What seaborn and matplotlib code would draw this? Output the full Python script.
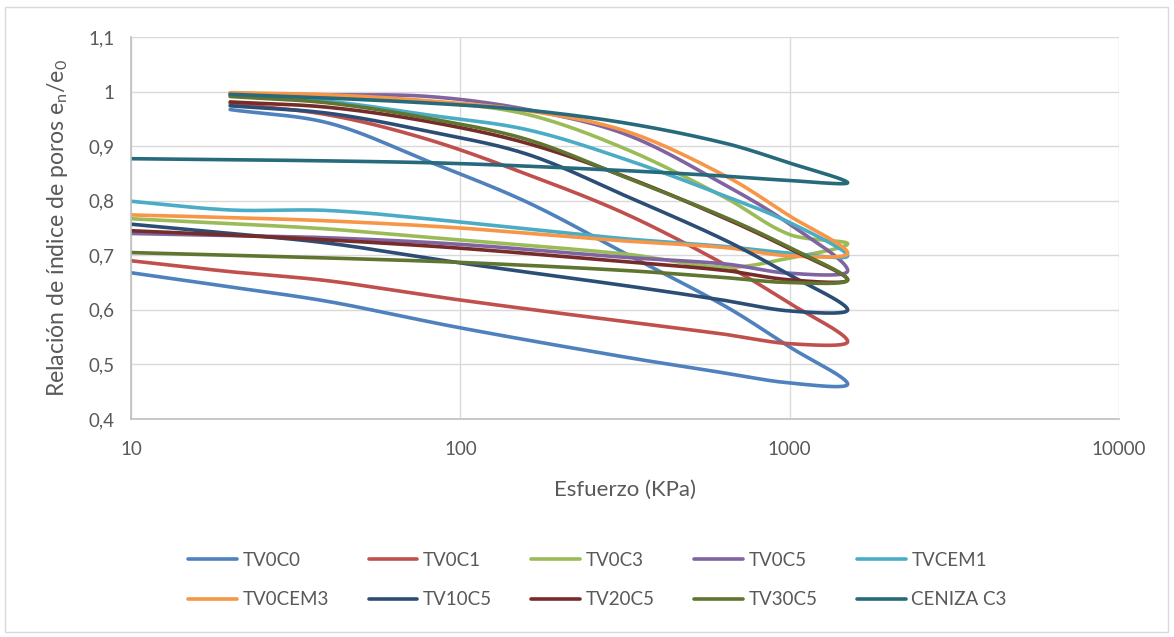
import numpy as np
import pandas as pd
import matplotlib
matplotlib.use("Agg")
import matplotlib.pyplot as plt
import seaborn as sns
from matplotlib.ticker import FixedLocator, FuncFormatter, NullLocator
from matplotlib.patches import Rectangle

# ---------------- data ----------------
series_names = ["TV0C0", "TV0C1", "TV0C3", "TV0C5", "TVCEM1",
                "TV0CEM3", "TV10C5", "TV20C5", "TV30C5", "CENIZA C3"]

load_x = [20, 40, 80, 160, 320, 640, 1000, 1500]        # loading branch (kPa)
unload_x = [1000, 640, 320, 100, 40, 20, 10]            # unloading branch (kPa)

tv0c0_load = [0.967, 0.942, 0.872, 0.797, 0.702, 0.606, 0.532, 0.464]
tv0c0_unload = [0.466, 0.484, 0.513, 0.567, 0.615, 0.642, 0.668]

tv0c1_load = [0.978, 0.957, 0.912, 0.848, 0.775, 0.682, 0.612, 0.542]
tv0c1_unload = [0.538, 0.555, 0.578, 0.618, 0.653, 0.670, 0.690]

tv0c3_load = [0.997, 0.992, 0.982, 0.958, 0.894, 0.805, 0.738, 0.721]
tv0c3_unload = [0.695, 0.678, 0.702, 0.728, 0.748, 0.758, 0.767]

tv0c5_load = [0.995, 0.994, 0.991, 0.967, 0.921, 0.828, 0.757, 0.672]
tv0c5_unload = [0.667, 0.684, 0.696, 0.720, 0.732, 0.736, 0.740]

tvcem1_load = [0.993, 0.982, 0.957, 0.930, 0.875, 0.808, 0.760, 0.699]
tvcem1_unload = [0.704, 0.716, 0.730, 0.761, 0.782, 0.783, 0.799]

tv0cem3_load = [0.998, 0.994, 0.983, 0.965, 0.927, 0.845, 0.772, 0.704]
tv0cem3_unload = [0.699, 0.714, 0.726, 0.750, 0.763, 0.769, 0.774]

tv10c5_load = [0.974, 0.960, 0.927, 0.885, 0.808, 0.727, 0.664, 0.600]
tv10c5_unload = [0.598, 0.617, 0.644, 0.686, 0.722, 0.740, 0.757]

tv20c5_load = [0.981, 0.971, 0.945, 0.905, 0.843, 0.767, 0.712, 0.655]
tv20c5_unload = [0.655, 0.672, 0.688, 0.713, 0.728, 0.737, 0.745]

tv30c5_load = [0.991, 0.979, 0.951, 0.912, 0.842, 0.769, 0.714, 0.655]
tv30c5_unload = [0.650, 0.659, 0.672, 0.687, 0.695, 0.700, 0.705]

ceniza_load = [0.995, 0.988, 0.979, 0.966, 0.942, 0.905, 0.869, 0.833]
ceniza_unload = [0.837, 0.845, 0.855, 0.868, 0.873, 0.875, 0.877]

loads = [tv0c0_load, tv0c1_load, tv0c3_load, tv0c5_load, tvcem1_load,
         tv0cem3_load, tv10c5_load, tv20c5_load, tv30c5_load, ceniza_load]
unloads = [tv0c0_unload, tv0c1_unload, tv0c3_unload, tv0c5_unload, tvcem1_unload,
           tv0cem3_unload, tv10c5_unload, tv20c5_unload, tv30c5_unload, ceniza_unload]

colors = ["#4F81BD", "#C0504D", "#9BBB59", "#8064A2", "#4BACC6",
          "#F79646", "#2C4D75", "#772C2A", "#5F7530", "#276A7C"]

y_ticks = [0.4, 0.5, 0.6, 0.7, 0.8, 0.9, 1.0, 1.1]
x_ticks = [10, 100, 1000, 10000]


# ------------- Excel-like smoothed line (Bezier through the points) -------------
def smooth(xs, ys, n=40):
    sx, sy = 329.5, 548.0          # pixel scale of a decade / of one y unit
    P = np.column_stack([np.log10(np.asarray(xs, float)) * sx,
                         np.asarray(ys, float) * sy])
    m = len(P)
    d = np.linalg.norm(np.diff(P, axis=0), axis=1)
    d = np.maximum(d, 1e-6)
    tang = np.zeros_like(P)
    for i in range(m):
        if i == 0:
            tang[i] = (P[1] - P[0]) / d[0]
        elif i == m - 1:
            tang[i] = (P[-1] - P[-2]) / d[-1]
        else:
            tang[i] = (P[i + 1] - P[i - 1]) / (d[i - 1] + d[i])
    out = [P[0]]
    t = np.linspace(0, 1, n)[1:, None]
    for i in range(m - 1):
        p1, p2 = P[i], P[i + 1]
        c1 = p1 + tang[i] * d[i] / 3.0
        c2 = p2 - tang[i + 1] * d[i] / 3.0
        seg = ((1 - t) ** 3) * p1 + 3 * ((1 - t) ** 2) * t * c1 \
            + 3 * (1 - t) * t ** 2 * c2 + t ** 3 * p2
        out.extend(seg)
    out = np.array(out)
    return 10 ** (out[:, 0] / sx), out[:, 1] / sy


rows = []
for name, ld, ul in zip(series_names, loads, unloads):
    xs = list(load_x) + list(unload_x)
    ys = list(ld) + list(ul)
    cx, cy = smooth(xs, ys)
    for k, (a, b) in enumerate(zip(cx, cy)):
        rows.append((name, k, a, b))
df = pd.DataFrame(rows, columns=["series", "order", "x", "y"])

# ---------------- figure ----------------
sns.set_style("white")
plt.rcParams["font.family"] = ["Lato", "DejaVu Sans"]
plt.rcParams["mathtext.fontset"] = "custom"
plt.rcParams["mathtext.rm"] = "Lato"

text_color = "#595959"
fig = plt.figure(figsize=(11.74, 6.37), dpi=100)
ax = fig.add_axes([131 / 1174, 1 - 419 / 637, (1119 - 131) / 1174, (419 - 37) / 637])
ax.set_xscale("log")

sns.lineplot(data=df, x="x", y="y", hue="series", hue_order=series_names,
             palette=colors, sort=False, estimator=None, linewidth=2.6,
             solid_capstyle="round", solid_joinstyle="round", ax=ax)

ax.set_xlim(10, 10000)
ax.set_ylim(0.4, 1.1)
ax.xaxis.set_major_locator(FixedLocator(x_ticks))
ax.xaxis.set_minor_locator(NullLocator())
ax.yaxis.set_major_locator(FixedLocator(y_ticks))
ax.xaxis.set_major_formatter(FuncFormatter(lambda v, p: "%d" % round(v)))
ax.yaxis.set_major_formatter(FuncFormatter(lambda v, p: ("%g" % round(v, 1)).replace(".", ",")))

ax.grid(True, color="#D9D9D9", linewidth=1.0)
ax.set_axisbelow(True)
for s in ["top", "right"]:
    ax.spines[s].set_visible(False)
for s in ["left", "bottom"]:
    ax.spines[s].set_color("#BFBFBF")
    ax.spines[s].set_linewidth(1.2)
ax.tick_params(axis="both", length=0, labelsize=13.5, colors=text_color)
ax.tick_params(axis="y", pad=12)
ax.tick_params(axis="x", pad=16)
ax.set_xlabel("")
ax.set_ylabel("")

fig.text(625 / 1174, 1 - 490 / 637, "Esfuerzo (KPa)", fontsize=16,
         color=text_color, ha="center", va="center")
fig.text(57 / 1174, 1 - 228 / 637,
         r"Relación de índice de poros e$_\mathregular{n}$/e$_\mathregular{0}$",
         fontsize=16.6, color=text_color, ha="center", va="center", rotation=90)

# legend (row-major order as in the reference)
handles, labels = ax.get_legend_handles_labels()
ax.get_legend().remove()
order = [0, 5, 1, 6, 2, 7, 3, 8, 4, 9]
for h in handles:
    h.set_linewidth(2.6)
leg = fig.legend([handles[i] for i in order], [labels[i] for i in order],
                 ncol=5, loc="center", bbox_to_anchor=(0.509, 1 - 580 / 637),
                 frameon=False, fontsize=13.5, handlelength=2.6, handletextpad=0.3,
                 columnspacing=2.1, labelspacing=1.2)
for t in leg.get_texts():
    t.set_color(text_color)

# chart border
fig.patches.append(Rectangle((5 / 1174, 1 - 632 / 637), 1163 / 1174, 625 / 637,
                             transform=fig.transFigure, fill=False,
                             edgecolor="#D9D9D9", linewidth=1.0))

fig.savefig("out.png", dpi=100)
